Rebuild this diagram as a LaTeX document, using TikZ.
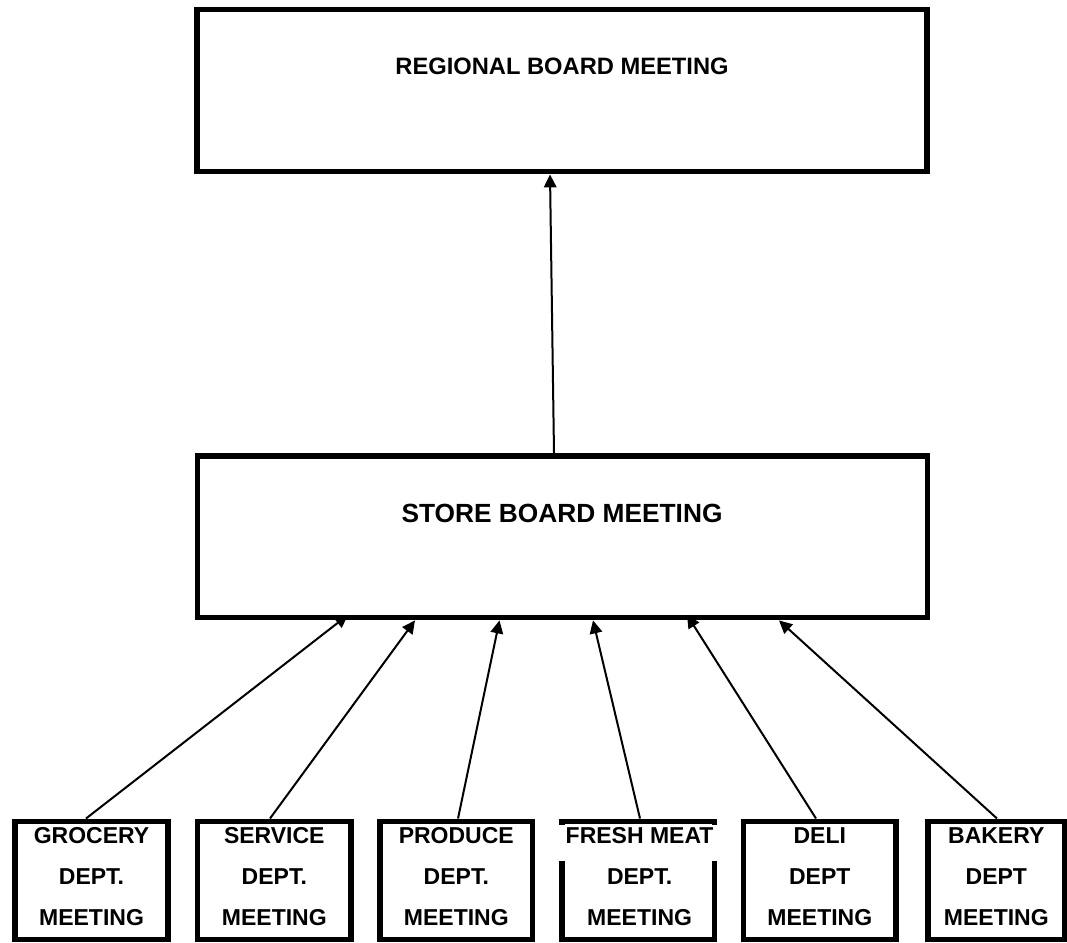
\documentclass[tikz,border=0pt]{standalone}
\usepackage{fontspec}
\setmainfont{Liberation Sans}
\usetikzlibrary{arrows.meta}
\begin{document}
\begin{tikzpicture}[x=1pt,y=-1pt,
  bigbox/.style={draw, line width=5.4pt, rectangle, inner sep=0pt, minimum width=730pt, minimum height=161.4pt},
  deptbox/.style={draw, line width=5.5pt, rectangle, inner sep=0pt, minimum height=118pt},
  bigtext/.style={font=\bfseries\fontsize{23.7}{28}\selectfont, inner sep=0pt},
  deptext/.style={font=\bfseries\fontsize{23}{41}\selectfont, align=center, inner sep=0pt},
  conn/.style={line width=2pt, -{Triangle[length=13pt,width=12.5pt]}}]
\useasboundingbox (0,0) rectangle (1067,942);

% upper boxes
\node[bigbox] (regional) at (562,90.5) {};
\node[bigtext] (regionaltext) at (562,66) {REGIONAL BOARD MEETING};
\node[bigbox] (store) at (562.5,536.5) {};
\node[bigtext, font=\bfseries\fontsize{26.3}{31}\selectfont] (storetext) at (562,513) {STORE BOARD MEETING};

% department boxes
\node[deptbox, minimum width=153pt] (grocery) at (91.5,880.25) {};
\node[deptbox, minimum width=153.5pt] (service) at (274.3,880.25) {};
\node[deptbox, minimum width=152.5pt] (produce) at (456.3,880.25) {};
\node[deptbox, minimum width=152.6pt] (freshmeat) at (638.3,880.25) {};
\node[deptbox, minimum width=152.5pt] (deli) at (819.8,880.25) {};
\node[deptbox, minimum width=136.5pt] (bakery) at (996.3,880.25) {};

% white background behind the first line of the fresh meat label
\fill[white] (553,824.5) rectangle (722,861);

\node[deptext] (grocerytext) at ([yshift=3.25pt]grocery.center) {GROCERY\\DEPT.\\MEETING};
\node[deptext] (servicetext) at ([yshift=3.25pt]service.center) {SERVICE\\DEPT.\\MEETING};
\node[deptext] (producetext) at ([yshift=3.25pt]produce.center) {PRODUCE\\DEPT.\\MEETING};
\node[deptext] (freshmeattext) at ([yshift=3.25pt,xshift=1.3pt]freshmeat.center) {FRESH MEAT\\DEPT.\\MEETING};
\node[deptext] (delitext) at ([yshift=3.25pt]deli.center) {DELI\\DEPT\\MEETING};
\node[deptext] (bakerytext) at ([yshift=3.25pt]bakery.center) {BAKERY\\DEPT\\MEETING};

% connectors
\draw[conn] ([xshift=-5.5pt]grocery.north) -- ([xshift=-214.5pt,yshift=5pt]store.south);
\draw[conn] ([xshift=-4.3pt]service.north) -- ([xshift=-147.5pt,yshift=-0.5pt]store.south);
\draw[conn] ([xshift=1.7pt]produce.north) -- ([xshift=-63pt,yshift=-0.5pt]store.south);
\draw[conn] ([xshift=1.7pt]freshmeat.north) -- ([xshift=30.5pt,yshift=-0.5pt]store.south);
\draw[conn] ([xshift=-3.8pt]deli.north) -- ([xshift=124.5pt,yshift=5pt]store.south);
\draw[conn] ([xshift=0.7pt]bakery.north) -- ([xshift=216.5pt,yshift=-0.5pt]store.south);
\draw[conn] ([xshift=-8.5pt]store.north) -- ([xshift=-12pt,yshift=-0.5pt]regional.south);
\end{tikzpicture}
\end{document}
